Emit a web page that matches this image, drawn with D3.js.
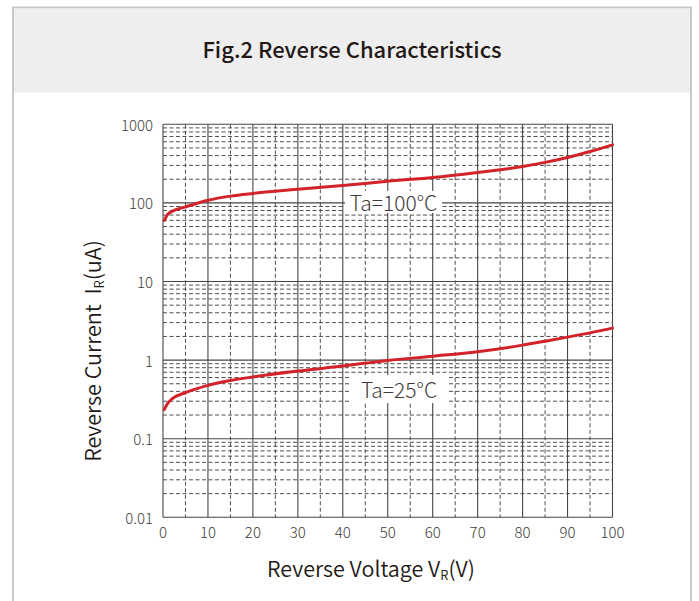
<!DOCTYPE html>
<html>
<head>
<meta charset="utf-8">
<script src="https://cdn.jsdelivr.net/npm/d3@7"></script>
<style>
  html, body { margin: 0; padding: 0; background: #fff; }
  svg { display: block; font-family: "Noto Sans CJK SC", "Noto Sans", sans-serif; }
</style>
</head>
<body>
<svg id="chart" width="699" height="601"></svg>
<script>
// reverse voltage (V)
const voltage = [0.3, 1, 2, 5, 10, 15, 20, 30, 40, 50, 60, 70, 80, 85, 90, 95, 100];
// reverse current (uA) at each temperature
const current100 = [60, 71, 78, 89, 108, 122, 132, 149, 166, 189, 210, 244, 290, 328, 378, 450, 547];
const current25 = [0.236, 0.28, 0.32, 0.385, 0.477, 0.55, 0.61, 0.725, 0.84, 0.99, 1.12, 1.28, 1.55, 1.74, 1.96, 2.22, 2.55];

const xTicks = [0, 10, 20, 30, 40, 50, 60, 70, 80, 90, 100];
const yTicks = [0.01, 0.1, 1, 10, 100, 1000];
const yTickLabels = ["0.01", "0.1", "1", "10", "100", "1000"];

const svg = d3.select("#chart");
const textColor = "#231815";
const gridColor = "#3e3a39";
const red = "#d2232a";

// frame + header
svg.append("rect")
  .attr("x", 13).attr("y", 7.5)
  .attr("width", 678).attr("height", 620)
  .attr("fill", "#fff")
  .attr("stroke", "#c8c8c8").attr("stroke-width", 2);
svg.append("rect")
  .attr("x", 14).attr("y", 8.5)
  .attr("width", 676).attr("height", 84)
  .attr("fill", "#eeeeee");
svg.append("text")
  .attr("x", 352).attr("y", 48)
  .attr("text-anchor", "middle")
  .attr("dominant-baseline", "central")
  .attr("fill", textColor)
  .style("font-size", "22px")
  .style("font-weight", 500)
  .text("Fig.2 Reverse Characteristics");

const x = d3.scaleLinear().domain([0, 100]).range([163, 612.5]);
const y = d3.scaleLog().domain([0.01, 1000]).range([517.3, 124.3]);

const grid = svg.append("g");

// minor horizontal dashed lines (2..9 per decade)
const minorY = [];
for (let d = 0.01; d < 1000; d *= 10) {
  for (let k = 2; k <= 9; k++) minorY.push(+(d * k).toPrecision(3));
}
grid.selectAll(".hminor").data(minorY).join("line")
  .attr("x1", x(0)).attr("x2", x(100))
  .attr("y1", d => y(d)).attr("y2", d => y(d))
  .attr("stroke", gridColor).attr("stroke-width", 0.9)
  .attr("stroke-dasharray", "4,2.5");

// vertical dashed lines at 5, 15, ...
const minorX = d3.range(5, 100, 10);
grid.selectAll(".vminor").data(minorX).join("line")
  .attr("x1", d => x(d)).attr("x2", d => x(d))
  .attr("y1", y(1000)).attr("y2", y(0.01))
  .attr("stroke", gridColor).attr("stroke-width", 0.9)
  .attr("stroke-dasharray", "4,2.5");

// major solid lines
grid.selectAll(".hmajor").data(yTicks).join("line")
  .attr("x1", x(0)).attr("x2", x(100))
  .attr("y1", d => y(d)).attr("y2", d => y(d))
  .attr("stroke", "#4a4545").attr("stroke-width", 1.1);
grid.selectAll(".vmajor").data(xTicks).join("line")
  .attr("x1", d => x(d)).attr("x2", d => x(d))
  .attr("y1", y(1000)).attr("y2", y(0.01))
  .attr("stroke", "#4a4545").attr("stroke-width", 1.1);

// tick labels
svg.append("g").selectAll("text").data(xTicks).join("text")
  .attr("x", d => x(d)).attr("y", 531)
  .attr("text-anchor", "middle")
  .attr("dominant-baseline", "central")
  .attr("fill", "#3e3a39")
  .style("font-size", "15px").style("font-weight", 300)
  .text(d => d);
svg.append("g").selectAll("text").data(yTicks).join("text")
  .attr("x", 153).attr("y", d => y(d))
  .attr("text-anchor", "end")
  .attr("dominant-baseline", "central")
  .attr("fill", "#3e3a39")
  .style("font-size", "15px").style("font-weight", 300)
  .text((d, i) => yTickLabels[i]);

// axis titles
const xt = svg.append("text")
  .attr("x", 371).attr("y", 567)
  .attr("text-anchor", "middle")
  .attr("dominant-baseline", "central")
  .attr("fill", textColor)
  .style("font-size", "21.5px").style("font-weight", 350);
xt.append("tspan").text("Reverse Voltage V");
xt.append("tspan").attr("dy", 7).style("font-size", "13px").text("R");
xt.append("tspan").attr("dy", -7).text("(V)");

const yt = svg.append("text")
  .attr("transform", "translate(91,351) rotate(-90)")
  .attr("text-anchor", "middle")
  .attr("dominant-baseline", "central")
  .attr("fill", textColor)
  .style("white-space", "pre")
  .style("font-size", "21.5px").style("font-weight", 350);
yt.append("tspan").text("Reverse Current  I");
yt.append("tspan").attr("dy", 7).style("font-size", "13px").text("R");
yt.append("tspan").attr("dy", -7).text("(uA)");

// curves
const line = d3.line()
  .x((d, i) => x(voltage[i]))
  .y(d => y(d))
  .curve(d3.curveMonotoneX);

[current100, current25].forEach(series => {
  svg.append("path")
    .datum(series)
    .attr("fill", "none")
    .attr("stroke", red)
    .attr("stroke-width", 3)
    .attr("stroke-linecap", "round")
    .attr("d", line);
});

// curve labels with white box behind
function curveLabel(txt, cx, cy, w, h) {
  svg.append("rect")
    .attr("x", cx - w / 2).attr("y", cy - h / 2)
    .attr("width", w).attr("height", h)
    .attr("fill", "#fff");
  svg.append("text")
    .attr("x", cx).attr("y", cy)
    .attr("text-anchor", "middle")
    .attr("dominant-baseline", "central")
    .attr("fill", "#3e3a39")
    .style("font-size", "21px").style("font-weight", 300)
    .text(txt);
}
curveLabel("Ta=100°C", 393.5, y(100) - 1, 97, 22);
curveLabel("Ta=25°C", 399, 389, 98, 28);
</script>
</body>
</html>
